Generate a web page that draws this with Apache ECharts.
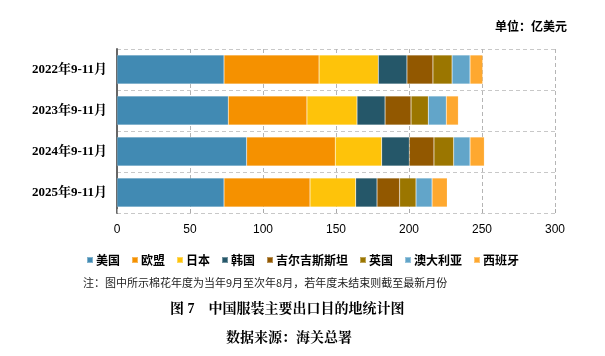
<!DOCTYPE html>
<html><head><meta charset="utf-8">
<script src="https://cdn.jsdelivr.net/npm/echarts@6/dist/echarts.min.js"></script>
<style>html,body{margin:0;padding:0;background:#fff}#c{width:605px;height:356px}</style>
</head><body><div id="c"></div>
<script>
const categories = ['2022年9-11月','2023年9-11月','2024年9-11月','2025年9-11月'];
const seriesNames = ['美国','欧盟','日本','韩国','吉尔吉斯斯坦','英国','澳大利亚','西班牙'];
const usa = [73.3, 76.2, 88.8, 73.3];
const eu = [65.1, 53.9, 60.7, 58.9];
const japan = [40.6, 34.3, 31.8, 31.3];
const korea = [19.6, 19.2, 18.9, 14.6];
const kyrgyz = [17.8, 17.8, 16.9, 15.5];
const uk = [13.1, 11.8, 13.5, 11.2];
const australia = [12.3, 12.3, 11.2, 11.0];
const spain = [8.7, 8.3, 9.8, 10.4];
const xTicks = [0, 50, 100, 150, 200, 250, 300];
const colors = ['#418ab3','#f59100','#fec30a','#255769','#925800','#9b7600','#62a5c9','#fea82f'];
const values = [usa, eu, japan, korea, kyrgyz, uk, australia, spain];

const chart = echarts.init(document.getElementById('c'));
const serif = '"Times New Roman","Liberation Serif","Noto Serif CJK SC","Noto Sans CJK SC",serif';
chart.setOption({
  animation: false,
  color: colors,
  grid: {left: 117, right: 50, top: 49, bottom: 143, containLabel: false},
  legend: {
    data: seriesNames, top: 249, left: 'center', itemWidth: 6, itemHeight: 6, itemGap: 11,
    icon: 'rect',
    textStyle: {fontSize: 12, fontWeight: 'bold', color: '#000', fontFamily: '"Noto Sans CJK SC",sans-serif', padding: [0,0,0,-2]}
  },
  xAxis: {
    type: 'value', min: xTicks[0], max: xTicks[xTicks.length-1], interval: 50,
    axisLine: {show: false},
    axisTick: {show: true, inside: true, length: 4, lineStyle: {color: '#aaa'}},
    axisLabel: {fontSize: 12, color: '#000', margin: 11, fontFamily: '"Liberation Sans",Arial,sans-serif'},
    splitLine: {show: true, lineStyle: {type: [4, 3], color: '#b5b5b5'}}
  },
  yAxis: {
    type: 'category', data: categories, inverse: true,
    axisLine: {show: true, lineStyle: {color: '#666', width: 2}},
    axisTick: {show: false},
    axisLabel: {fontSize: 13, color: '#000', fontWeight: 'bold', margin: 10, fontFamily: serif},
    splitLine: {show: true, lineStyle: {type: [4, 3], color: '#c8c8c8'}}
  },
  series: seriesNames.map((n, i) => ({
    name: n, type: 'bar', stack: 'total', data: values[i], barWidth: 29,
    itemStyle: {color: colors[i], borderColor: 'rgba(255,255,255,0.35)', borderWidth: 0.5}
  })),
  graphic: [
    {type: 'text', right: 38, top: 20, style: {text: '单位：亿美元', font: 'bold 12px "Noto Sans CJK SC",sans-serif', fill: '#000'}},
    {type: 'text', left: 83, top: 277, style: {text: '注：图中所示棉花年度为当年9月至次年8月，若年度未结束则截至最新月份', font: '11px "Noto Sans CJK SC",sans-serif', fill: '#222'}},
    {type: 'text', left: 170, top: 302, style: {text: '图 7　中国服装主要出口目的地统计图', font: 'bold 14px ' + serif, fill: '#000'}},
    {type: 'text', left: 226, top: 331, style: {text: '数据来源：海关总署', font: 'bold 14px ' + serif, fill: '#000'}}
  ]
});
</script></body></html>
